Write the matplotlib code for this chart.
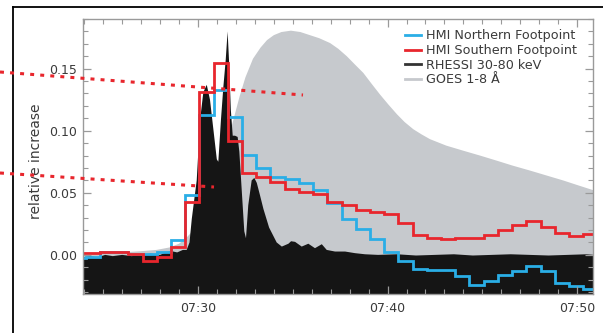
import numpy as np
import matplotlib
matplotlib.use('Agg')
import matplotlib.pyplot as plt
from matplotlib.lines import Line2D
from matplotlib.ticker import MultipleLocator, FuncFormatter

# time axis in minutes after 07:00
# HMI step edges (45 s cadence)
hmi_edges = [23.32, 24.07, 24.82, 25.57, 26.32, 27.07, 27.82, 28.57, 29.32,
             30.07, 30.82, 31.57, 32.32, 33.07, 33.82, 34.57, 35.32, 36.07,
             36.82, 37.57, 38.32, 39.07, 39.82, 40.57, 41.32, 42.07, 42.82,
             43.57, 44.32, 45.07, 45.82, 46.57, 47.32, 48.07, 48.82, 49.57,
             50.32, 51.07]

hmi_north = [-0.0026, -0.0013, 0.0027, 0.0027, 0.0005, 0.001, 0.0025, 0.012, 0.048,
             0.113, 0.133, 0.111, 0.0805, 0.070, 0.063, 0.061, 0.058, 0.052,
             0.042, 0.029, 0.021, 0.0125, 0.002, -0.0053, -0.0112, -0.012,
             -0.0125, -0.0173, -0.0245, -0.0213, -0.016, -0.0128, -0.0093,
             -0.0133, -0.0226, -0.0253, -0.0274]

hmi_south = [0.0019, 0.0019, 0.0027, 0.0027, 0.0005, -0.0053, -0.0019, 0.0067, 0.0427,
             0.131, 0.1546, 0.092, 0.066, 0.0627, 0.059, 0.0528, 0.051, 0.0488,
             0.043, 0.0404, 0.0363, 0.0347, 0.0326, 0.0257, 0.016, 0.014,
             0.0127, 0.0134, 0.014, 0.0157, 0.02, 0.024, 0.0275, 0.0227,
             0.0174, 0.0155, 0.0168]

# RHESSI 30-80 keV
rhessi_t = [23.93, 24.3, 24.7, 25.1, 25.5, 26.0, 26.5, 27.0, 27.5, 28.0, 28.3,
            28.6, 28.9, 29.2, 29.4, 29.55, 29.67, 29.93, 30.11, 30.28, 30.46,
            30.63, 30.81, 30.99, 31.07, 31.21, 31.34, 31.46, 31.56, 31.64,
            31.73, 31.83, 31.95, 32.09, 32.18, 32.31, 32.44, 32.53, 32.65,
            32.83, 32.97, 33.10, 33.27, 33.45, 33.63, 33.75, 33.95, 34.15,
            34.42, 34.77, 34.91, 35.12, 35.47, 35.82, 36.17, 36.53, 36.79,
            37.23, 37.76, 38.28, 38.81, 39.5, 40.5, 41.5, 42.5, 43.5, 44.5,
            45.5, 46.5, 47.5, 48.5, 49.5, 50.5, 50.9]
rhessi = [-0.002, -0.001, -0.002, 0.0, -0.001, 0.0, -0.001, 0.0, 0.001, 0.0, 0.002,
          0.003, 0.002, 0.004, 0.004, 0.010, 0.029, 0.060, 0.109, 0.131, 0.137,
          0.125, 0.101, 0.077, 0.075, 0.109, 0.136, 0.157, 0.180, 0.155,
          0.117, 0.096, 0.096, 0.095, 0.083, 0.051, 0.019, 0.0134, 0.040,
          0.060, 0.062, 0.058, 0.048, 0.037, 0.028, 0.022, 0.016, 0.010,
          0.0067, 0.009, 0.011, 0.0105, 0.0067, 0.009, 0.0054, 0.0086, 0.004,
          0.0027, 0.0027, 0.0014, 0.0005, 0.0, 0.0005, -0.0005, 0.0, 0.0005, -0.0005,
          0.0, 0.0005, 0.0, -0.0005, 0.0, 0.0005, 0.0]

# GOES 1-8 A
goes_t = [23.93, 25.0, 26.0, 27.0, 27.8, 28.5, 29.0, 29.4, 29.7, 30.0, 30.4,
          30.8, 31.2, 31.5, 31.85, 32.2, 32.5, 32.9, 33.3, 33.64, 34.0, 34.4,
          34.9, 35.4, 35.9, 36.4, 36.97, 37.4, 37.85, 38.3, 38.72, 39.15,
          39.6, 40.05, 40.5, 40.9, 41.36, 41.8, 42.24, 43.1, 44.0, 44.9,
          45.76, 46.6, 47.52, 48.4, 49.28, 50.1, 50.9]
goes = [0.001, 0.0015, 0.002, 0.003, 0.004, 0.006, 0.009, 0.014, 0.019, 0.026, 0.038,
        0.052, 0.070, 0.088, 0.108, 0.128, 0.143, 0.158, 0.167, 0.173, 0.177, 0.1795,
        0.1806, 0.1795, 0.177, 0.1745, 0.1706, 0.166, 0.160, 0.153, 0.1466, 0.138,
        0.1292, 0.121, 0.1132, 0.107, 0.1012, 0.097, 0.0932, 0.088, 0.0839, 0.0799,
        0.0759, 0.0719, 0.0679, 0.0639, 0.0599, 0.0558, 0.0519]

c_blue = '#2aaee6'
c_red = '#e8262d'
c_gray = '#c6c9cd'
c_black = '#151515'
c_text = '#3a3a3a'
c_axis = '#9a9a9a'

fig = plt.figure(figsize=(6.03, 3.33), dpi=100)
ax = fig.add_axes([83/603, 1-294/333, 510/603, 275/333])

ymin, ymax = -0.0315, 0.190
ax.fill_between(goes_t, goes, ymin - 1, color=c_gray, lw=0)
ax.fill_between(rhessi_t, rhessi, ymin - 1, color=c_black, lw=0)
ax.stairs(hmi_north, hmi_edges, color=c_blue, lw=2.0)
ax.stairs(hmi_south, hmi_edges, color=c_red, lw=2.0)

ax.set_xlim(23.93, 50.84)
ax.set_ylim(ymin, ymax)

ax.xaxis.set_major_locator(MultipleLocator(10))
ax.xaxis.set_minor_locator(MultipleLocator(1))
ax.xaxis.set_major_formatter(FuncFormatter(lambda v, p: '07:%02d' % int(round(v))))
ax.yaxis.set_major_locator(MultipleLocator(0.05))
ax.yaxis.set_minor_locator(MultipleLocator(0.01))
ax.yaxis.set_major_formatter(FuncFormatter(lambda v, p: '%.2f' % (0.0 if abs(v) < 1e-9 else v)))

ax.tick_params(which='both', direction='in', top=True, right=True, colors=c_axis,
               labelcolor=c_text, labelsize=9)
ax.tick_params(which='major', length=6, width=0.9)
ax.tick_params(which='minor', length=3.5, width=0.8)
ax.tick_params(axis='y', pad=4)
ax.tick_params(axis='x', pad=6)
for s in ax.spines.values():
    s.set_color(c_axis)
    s.set_linewidth(1.0)

ax.set_ylabel('relative increase', fontsize=10, color=c_text)
ax.yaxis.set_label_coords(-0.078, 0.482)

handles = [Line2D([], [], color=c_blue, lw=2),
           Line2D([], [], color=c_red, lw=2),
           Line2D([], [], color='#333333', lw=2),
           Line2D([], [], color=c_gray, lw=2)]
labels = ['HMI Northern Footpoint', 'HMI Southern Footpoint',
          'RHESSI 30-80 keV', 'GOES 1-8 Å']
leg = ax.legend(handles, labels, loc='upper right', frameon=False, fontsize=9.2,
                handlelength=1.3, handletextpad=0.35, labelspacing=0.13,
                borderaxespad=0, bbox_to_anchor=(0.978, 0.981))
for t in leg.get_texts():
    t.set_color(c_text)

# outer frame (top and left)
fig.add_artist(Line2D([13/603, 1], [1-7/333, 1-7/333], color='black', lw=1.3))
fig.add_artist(Line2D([13/603, 13/603], [0, 1-7/333], color='black', lw=1.3))

# red dotted pointer lines
for (x0, y0, x1, y1) in [(0, 72, 303, 95), (0, 173, 214, 187)]:
    fig.add_artist(Line2D([x0/603, x1/603], [1-y0/333, 1-y1/333], color=c_red,
                          lw=2.2, linestyle=(0, (1.3, 2.0)), dash_capstyle='butt'))

fig.savefig('out.png', dpi=100)
